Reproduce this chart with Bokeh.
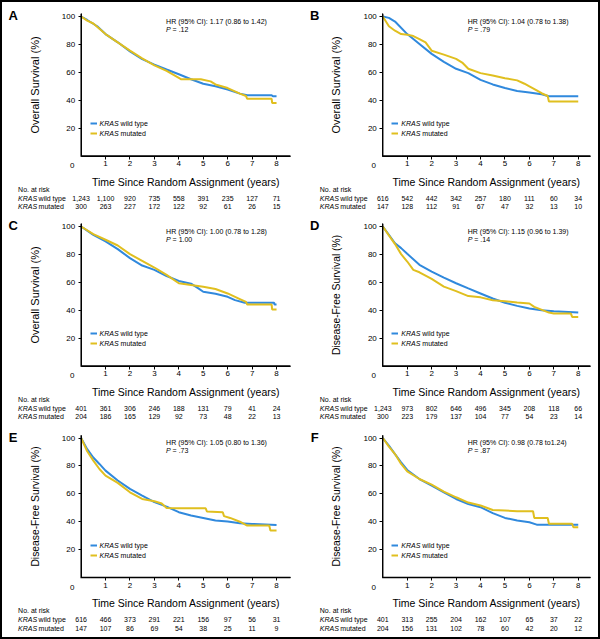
from bokeh.plotting import figure
from bokeh.models import Label, Legend, LegendItem, FixedTicker, Range1d, LinearAxis
from bokeh.layouts import row, column
from bokeh.core.properties import value
from bokeh.embed import file_html
from bokeh.resources import INLINE

BLUE = "#3089dd"
GOLD = "#e0bf1f"
SANS = "Liberation Sans"

risk_years = [0, 1, 2, 3, 4, 5, 6, 7, 8]
y_ticks = [20, 40, 60, 80, 100]
x_ticks = [1, 2, 3, 4, 5, 6, 7, 8]

# ---------------- Panel A : Overall survival ----------------
a_wt_t = [0, 0.25, 0.66, 1, 1.5, 2, 2.5, 3, 3.5, 4, 4.5, 5, 5.5, 6, 6.5, 6.8, 7.8, 7.85, 8.0]
a_wt_s = [100, 97.5, 93, 87.4, 81.5, 75, 69.5, 65.5, 62, 58.6, 55, 51.8, 50, 47.7, 44.7, 43.5, 43.5, 42.8, 42.8]
a_mu_t = [0, 0.25, 0.5, 1, 1.5, 2, 2.5, 3, 3.5, 4, 4.1, 4.9, 5.3, 5.5, 6, 6.5, 6.75, 6.8, 7.8, 7.82, 8.0]
a_mu_s = [100, 97, 95, 87.4, 81.5, 75.5, 70, 65, 61, 56, 55, 55, 53.5, 51.3, 48.7, 44.7, 43, 41, 41, 38, 38]
a_risk_wt = [1243, 1100, 920, 735, 558, 391, 235, 127, 71]
a_risk_mu = [300, 263, 227, 172, 122, 92, 61, 26, 15]
a_hr = "HR (95% CI): 1.17 (0.86 to 1.42)"
a_p = "= .12"

# ---------------- Panel B ----------------
b_wt_t = [0, 0.25, 0.5, 1, 1.5, 2, 2.5, 3, 3.5, 4, 4.5, 5, 5.5, 6, 6.5, 6.8, 8.0]
b_wt_s = [100, 99, 96.4, 87.4, 80.3, 73.2, 67.5, 62.5, 59.4, 54.6, 51.3, 48.7, 46.6, 45.6, 44.2, 42.8, 42.8]
b_mu_t = [0, 0.25, 0.5, 0.75, 1, 1.25, 1.5, 1.75, 2, 2.5, 3, 3.25, 3.5, 4, 4.5, 5, 5.5, 5.8, 6, 6.3, 6.5, 6.75, 6.8, 8.0]
b_mu_s = [100, 93, 89.8, 87.4, 87, 86, 83.8, 81.5, 75.5, 72.7, 69.6, 67, 62.5, 59.4, 57.7, 55.8, 54.2, 51.8, 49.9, 47, 45, 43, 39, 39]
b_risk_wt = [616, 542, 442, 342, 257, 180, 111, 60, 34]
b_risk_mu = [147, 128, 112, 91, 67, 47, 32, 13, 10]
b_hr = "HR (95% CI): 1.04 (0.78 to 1.38)"
b_p = "= .79"

# ---------------- Panel C ----------------
c_wt_t = [0, 0.25, 0.5, 1, 1.5, 2, 2.5, 3, 3.5, 4, 4.5, 4.8, 5, 5.5, 6, 6.3, 6.7, 7.9, 7.92, 8.0]
c_wt_s = [100, 97, 94, 89.3, 83.8, 77.3, 72, 68.9, 64.5, 61, 59, 55.6, 53.2, 51.8, 49.6, 47.2, 45.3, 45.3, 44, 44]
c_mu_t = [0, 0.5, 1, 1.5, 2, 2.5, 3, 3.5, 4, 4.5, 5, 5.5, 6, 6.5, 6.75, 6.8, 7.8, 7.82, 8.0]
c_mu_s = [100, 94.6, 90.5, 86.4, 80.2, 75.4, 70.6, 65.3, 59.3, 58, 56.8, 55.2, 52, 48, 46, 44, 44, 40.5, 40.5]
c_risk_wt = [401, 361, 306, 246, 188, 131, 79, 41, 24]
c_risk_mu = [204, 186, 165, 129, 92, 73, 48, 22, 13]
c_hr = "HR (95% CI): 1.00 (0.78 to 1.28)"
c_p = "= 1.00"

# ---------------- Panel D : Disease-free survival ----------------
d_wt_t = [0, 0.25, 0.5, 0.75, 1, 1.5, 2, 2.5, 3, 3.5, 4, 4.5, 5, 5.5, 6, 6.5, 7, 8.0]
d_wt_s = [100, 94, 88, 84.5, 80.4, 72.5, 67.7, 63.3, 59.3, 55.6, 52, 48.4, 45.3, 43.1, 41.2, 40, 39.3, 38.3]
d_mu_t = [0, 0.25, 0.5, 0.75, 1, 1.25, 1.5, 2, 2.5, 3, 3.5, 4, 4.5, 5, 5.5, 6, 6.2, 6.8, 7, 7.7, 7.75, 8.0]
d_mu_s = [100, 93.6, 87.4, 80.2, 74.9, 68.9, 67.2, 62.4, 56.9, 53.7, 50.1, 49.2, 47.2, 46.5, 45.6, 44.8, 42.4, 38.3, 37.6, 37.6, 35.2, 35.2]
d_risk_wt = [1243, 973, 802, 646, 496, 345, 208, 118, 66]
d_risk_mu = [300, 223, 179, 137, 104, 77, 54, 23, 14]
d_hr = "HR (95% CI): 1.15 (0.96 to 1.39)"
d_p = "= .14"

# ---------------- Panel E ----------------
e_wt_t = [0, 0.25, 0.5, 0.75, 1, 1.5, 2, 2.5, 3, 3.5, 4, 4.5, 5, 5.5, 6, 6.5, 7, 8.0]
e_wt_s = [100, 92, 86, 81.4, 76.6, 69.5, 63.5, 58.7, 54, 50.8, 46.8, 44.4, 42.7, 40.8, 40.1, 38.9, 38.4, 37.7]
e_mu_t = [0, 0.25, 0.5, 0.75, 1, 1.5, 2, 2.5, 3, 3.3, 3.5, 4, 5.1, 5.15, 5.8, 5.85, 6.1, 6.5, 6.8, 7.7, 7.75, 8.0]
e_mu_s = [100, 90.5, 83.8, 77.8, 73, 67.8, 61.1, 56.3, 54.7, 53, 49.9, 49.6, 49.6, 47.3, 46.8, 44, 42.7, 40, 37.2, 37.2, 33.7, 33.7]
e_risk_wt = [616, 466, 373, 291, 221, 156, 97, 56, 31]
e_risk_mu = [147, 107, 86, 69, 54, 38, 25, 11, 9]
e_hr = "HR (95% CI): 1.05 (0.80 to 1.36)"
e_p = "= .73"

# ---------------- Panel F ----------------
f_wt_t = [0, 0.25, 0.5, 0.75, 1, 1.5, 2, 2.5, 3, 3.5, 4, 4.5, 5, 5.5, 6, 6.3, 8.0]
f_wt_s = [100, 94.5, 88.5, 82.6, 77.1, 70.6, 65.9, 61.1, 56.3, 52.7, 50.4, 46.1, 42.7, 40.8, 39.6, 37.9, 37.9]
f_mu_t = [0, 0.25, 0.5, 0.75, 1, 1.5, 2, 2.5, 3, 3.5, 4, 4.5, 5, 5.5, 6, 6.15, 6.2, 6.75, 6.8, 7.75, 7.8, 8.0]
f_mu_s = [100, 93.8, 88.5, 81.4, 76.1, 70.6, 66.6, 61.6, 57.5, 53.7, 51.6, 48.4, 48, 47.5, 47.5, 47.5, 42.7, 42.7, 38.5, 38.5, 36, 36]
f_risk_wt = [401, 313, 255, 204, 162, 107, 65, 37, 22]
f_risk_mu = [204, 156, 131, 102, 78, 60, 42, 20, 12]
f_hr = "HR (95% CI): 0.98 (0.78 to1.24)"
f_p = "= .87"

PX_PER_YEAR = 24.43
PX_PER_PCT = 1.395
Y_AXIS_TOP = 102


def lab(p, text, x=0, y=0, dx=0, dy=0, size="7px", style="normal",
        align="left", font=SANS):
    p.add_layout(Label(x=x, y=y, x_offset=dx, y_offset=dy, text=text,
                       text_font=font, text_font_size=size,
                       text_font_style=style, text_align=align,
                       text_baseline="middle", text_color="black"))


def panel(letter, ylabel, ysize, wt_t, wt_s, mu_t, mu_s, hr, pv, r_wt, r_mu,
          left, height, bottom):
    if left:
        width, org_x, xend = 302, 80.6, 8.57
    else:
        width, org_x, xend = 298, 80.3, 8.5
    x_rng = Range1d(-org_x / PX_PER_YEAR, (width - org_x) / PX_PER_YEAR)
    y_rng = Range1d(-bottom / PX_PER_PCT, (height - bottom) / PX_PER_PCT)
    p = figure(width=width, height=height, output_backend="svg",
               toolbar_location=None, tools="",
               x_range=x_rng, y_range=y_rng,
               x_axis_type=None, y_axis_type=None, min_border=0,
               min_border_left=0, min_border_right=0,
               min_border_top=0, min_border_bottom=0)
    p.outline_line_color = None
    p.grid.visible = False
    p.background_fill_color = None
    p.border_fill_color = None

    xa = LinearAxis(fixed_location=0, bounds=(0, xend),
                    ticker=FixedTicker(ticks=x_ticks))
    ya = LinearAxis(fixed_location=0, bounds=(0, Y_AXIS_TOP),
                    ticker=FixedTicker(ticks=y_ticks))
    for ax in (xa, ya):
        if hasattr(ax, "background_fill_color"):
            ax.background_fill_color = None
        ax.axis_line_color = "black"
        ax.axis_line_width = 1
        ax.major_tick_line_color = "black"
        ax.major_tick_out = 3
        ax.major_tick_in = 0
        ax.minor_tick_line_color = None
        ax.major_label_text_font = SANS
        ax.major_label_text_font_size = "8px"
        ax.major_label_text_color = "black"
        ax.axis_label_text_font = SANS
        ax.axis_label_text_font_style = "normal"
        ax.axis_label_text_color = "black"
    xa.axis_label_text_font_size = "10.5px"
    ya.axis_label_text_font_size = ysize
    xa.major_label_standoff = 2
    ya.major_label_standoff = 3
    xa.axis_label = "Time Since Random Assignment (years)"
    xa.axis_label_standoff = 6
    ya.axis_label = ylabel
    ya.axis_label_standoff = 18
    p.add_layout(xa, "below")
    p.add_layout(ya, "left")

    r1 = p.line(wt_t, wt_s, line_color=BLUE, line_width=2)
    r2 = p.line(mu_t, mu_s, line_color=GOLD, line_width=2)

    # axis rule along the axes' bounds (L shape through the origin), on top
    p.line([xend, 0, 0], [0, 0, Y_AXIS_TOP], line_color="black",
           line_width=1.3, line_join="miter", level="overlay")

    leg = Legend(items=[LegendItem(label=value(""), renderers=[r1]),
                        LegendItem(label=value(""), renderers=[r2])],
                 location=(org_x + 9, bottom + 17.5), orientation="vertical",
                 padding=0, margin=0, spacing=0, glyph_width=7,
                 glyph_height=10, label_height=10, label_width=0,
                 label_standoff=0, label_text_font_size="7px",
                 border_line_color=None, background_fill_alpha=0)
    p.add_layout(leg)

    # legend texts
    lab(p, "KRAS", dx=18.5, dy=32.5, style="italic")
    lab(p, "wild type", dx=39.5, dy=32.5)
    lab(p, "KRAS", dx=18.5, dy=22.5, style="italic")
    lab(p, "mutated", dx=39.5, dy=22.5)

    # panel letter, origin zero, HR text
    lab(p, letter, dx=-68, dy=140.5, size="13px", style="bold", align="center")
    lab(p, "0", dx=-9, dy=-9.5, size="8px", align="center")
    lab(p, hr, dx=85, dy=135)
    lab(p, "P", dx=85, dy=127, style="italic")
    lab(p, pv, dx=91.5, dy=127)

    # risk table
    lab(p, "No. at risk", dx=-63, dy=-33)
    lab(p, "KRAS", dx=-63, dy=-42, style="italic")
    lab(p, "wild type", dx=-42.5, dy=-42)
    lab(p, "KRAS", dx=-63, dy=-50.5, style="italic")
    lab(p, "mutated", dx=-42.5, dy=-50.5)
    for t, n in zip(risk_years, r_wt):
        lab(p, f"{n:,}", x=t, dy=-42, align="center")
    for t, n in zip(risk_years, r_mu):
        lab(p, f"{n:,}", x=t, dy=-50.5, align="center")
    return p


OS = "Overall Survival (%)"
DFS = "Disease-Free Survival (%)"

pA = panel("A", OS, "11px", a_wt_t, a_wt_s, a_mu_t, a_mu_s, a_hr, a_p, a_risk_wt, a_risk_mu, True, 213, 57.5)
pB = panel("B", OS, "11px", b_wt_t, b_wt_s, b_mu_t, b_mu_s, b_hr, b_p, b_risk_wt, b_risk_mu, False, 213, 57.5)
pC = panel("C", OS, "11px", c_wt_t, c_wt_s, c_mu_t, c_mu_s, c_hr, c_p, c_risk_wt, c_risk_mu, True, 212, 59.5)
pD = panel("D", DFS, "10.3px", d_wt_t, d_wt_s, d_mu_t, d_mu_s, d_hr, d_p, d_risk_wt, d_risk_mu, False, 212, 59.5)
pE = panel("E", DFS, "10.3px", e_wt_t, e_wt_s, e_mu_t, e_mu_s, e_hr, e_p, e_risk_wt, e_risk_mu, True, 214, 62)
pF = panel("F", DFS, "10.3px", f_wt_t, f_wt_s, f_mu_t, f_mu_s, f_hr, f_p, f_risk_wt, f_risk_mu, False, 214, 62)

layout = column(row(pA, pB), row(pC, pD), row(pE, pF),
                styles={"outline": "2px solid black", "outline-offset": "-2px"})

with open("out.html", "w") as fh:
    fh.write(file_html(layout, INLINE))
